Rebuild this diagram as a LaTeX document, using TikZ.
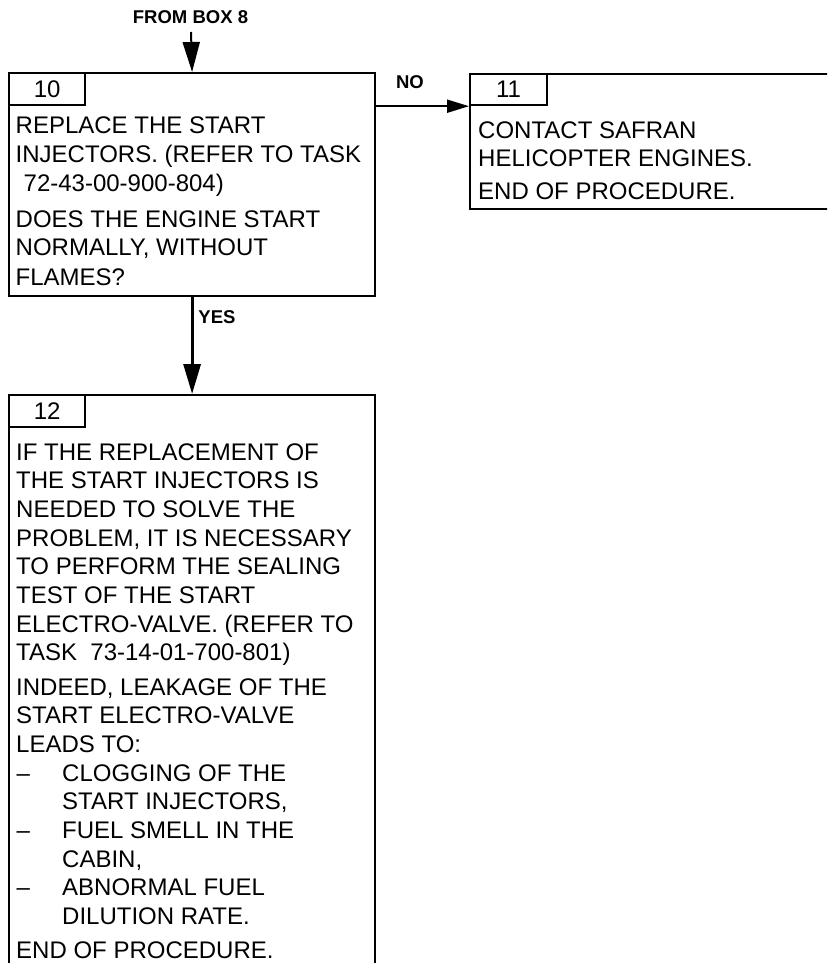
\documentclass[tikz,border=0pt]{standalone}
\usepackage{fontspec}
\setmainfont{Liberation Sans}
\usetikzlibrary{arrows.meta}
\begin{document}
\begin{tikzpicture}[x=1pt,y=-1pt,
  boxst/.style={draw,line width=2.2pt,inner sep=0pt,anchor=north west},
  tabst/.style={draw,line width=2.2pt,inner sep=0pt,minimum width=76pt,minimum height=32pt,anchor=north west,font=\fontsize{24}{28}\selectfont},
  txt/.style={anchor=base west,inner sep=0pt,font=\fontsize{24}{28}\selectfont},
  lbl/.style={inner sep=0pt,font=\bfseries\fontsize{18.5}{22}\selectfont},
  varr/.style={line width=2pt,-{Triangle[length=30pt,width=17pt]}},
  yarr/.style={line width=3pt,-{Triangle[length=30pt,width=17pt]}},
  harr/.style={line width=2pt,-{Triangle[length=22pt,width=13pt]}}]
\clip (0,0) rectangle (827,963);
% boxes
\node[boxst,minimum width=366pt,minimum height=223pt] (b10) at (8,72) {};
\node[boxst,minimum width=420pt,minimum height=135pt] (b11) at (469,73) {};
\node[boxst,minimum width=366pt,minimum height=620pt] (b12) at (8,394) {};
% tabs
\node[tabst] (t10) at (b10.north west) {10};
\node[tabst,minimum width=77pt,minimum height=31pt] (t11) at (b11.north west) {11};
\node[tabst] (t12) at (b12.north west) {12};
% box 10 text
\foreach \y/\x/\t [count=\i] in {
  133.3/15.5/{REPLACE THE START},
  162.3/15.5/{INJECTORS. (REFER TO TASK},
  191.7/23.5/{72-43-00-900-804)},
  227.3/15.5/{DOES THE ENGINE START},
  255.7/15.5/{NORMALLY, WITHOUT},
  285/15.5/{FLAMES?}}
  \node[txt] (x10l\i) at (\x,\y) {\t};
% box 11 text
\foreach \y/\t [count=\i] in {
  138.3/{CONTACT SAFRAN},
  166/{HELICOPTER ENGINES.},
  199.3/{END OF PROCEDURE.}}
  \node[txt] (x11l\i) at (478,\y) {\t};
% box 12 text
\foreach \y/\x/\t [count=\i] in {
  460/16/{IF THE REPLACEMENT OF},
  488.7/16/{THE START INJECTORS IS},
  517.4/16/{NEEDED TO SOLVE THE},
  546.1/16/{PROBLEM, IT IS NECESSARY},
  574.8/16/{TO PERFORM THE SEALING},
  603.5/16/{TEST OF THE START},
  632.2/16/{ELECTRO-VALVE. (REFER TO},
  660.9/16/{TASK~~73-14-01-700-801)},
  695/16/{INDEED, LEAKAGE OF THE},
  723.7/16/{START ELECTRO-VALVE},
  752.4/16/{LEADS TO:},
  781.1/16.5/{–},
  781.1/62/{CLOGGING OF THE},
  809.8/62/{START INJECTORS,},
  838.5/16.5/{–},
  838.5/62/{FUEL SMELL IN THE},
  867.2/62/{CABIN,},
  895.9/16.5/{–},
  895.9/62/{ABNORMAL FUEL},
  924.6/62/{DILUTION RATE.},
  958.7/16/{END OF PROCEDURE.}}
  \node[txt] (x12l\i) at (\x,\y) {\t};
% labels
\node[lbl] (lab8) at (190.5,16.7) {FROM BOX 8};
\node[lbl] (labno) at (410,81.7) {NO};
\node[lbl] (labyes) at (217,317.5) {YES};
% connectors
\coordinate (c8) at (191,32);
\draw[varr] (c8) -- (b10.north);
\draw[harr] (b10.east |- t11.south west) -- (t11.south west);
\draw[yarr] (b10.south) -- (b12.north);
\end{tikzpicture}
\end{document}
